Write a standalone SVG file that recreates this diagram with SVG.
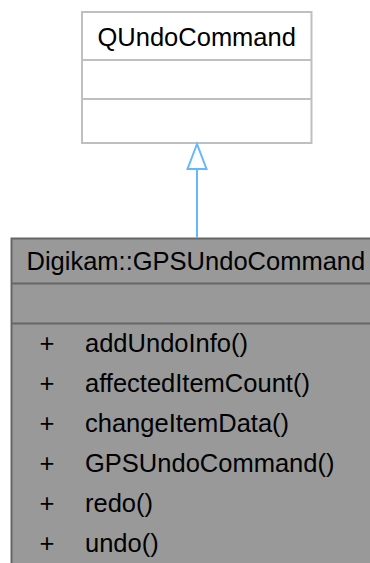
<svg xmlns="http://www.w3.org/2000/svg" width="370" height="563" viewBox="0 0 370 563">
<style>
text{font-family:"Liberation Sans",Arial,Helvetica,sans-serif;font-size:25.5px;fill:#000}
.base rect{fill:#fff;stroke:#bfbfbf;stroke-width:2}
.base line{stroke:#bfbfbf;stroke-width:2}
.cls rect{fill:#999999;stroke:#666666;stroke-width:2}
.cls line{stroke:#666666;stroke-width:2}
.edge{stroke:#63b8ff;stroke-width:2;fill:none}
</style>
<rect width="370" height="563" fill="#fff"/>
<g id="node_QUndoCommand" class="base">
<rect x="82" y="12" width="229.5" height="131"/>
<line x1="82" y1="60" x2="311.5" y2="60"/>
<line x1="82" y1="99" x2="311.5" y2="99"/>
<text x="196.7" y="46" text-anchor="middle">QUndoCommand</text>
</g>
<g id="node_GPSUndoCommand" class="cls">
<rect x="11.5" y="238.5" width="370" height="340"/>
<line x1="11.5" y1="283.5" x2="370" y2="283.5"/>
<line x1="11.5" y1="323.5" x2="370" y2="323.5"/>
<text x="26.5" y="270">Digikam::GPSUndoCommand</text>
<text x="39.5" y="352">+</text><text x="85" y="352">addUndoInfo()</text>
<text x="39.5" y="392">+</text><text x="85" y="392">affectedItemCount()</text>
<text x="39.5" y="432">+</text><text x="85" y="432">changeItemData()</text>
<text x="39.5" y="472">+</text><text x="85" y="472">GPSUndoCommand()</text>
<text x="39.5" y="512">+</text><text x="85" y="512">redo()</text>
<text x="39.5" y="552">+</text><text x="85" y="552">undo()</text>
</g>
<g id="connectors">
<line class="edge" x1="197" y1="169" x2="197" y2="238"/>
<polygon class="edge" points="197,144 187.5,169 206.5,169"/>
</g>
</svg>
